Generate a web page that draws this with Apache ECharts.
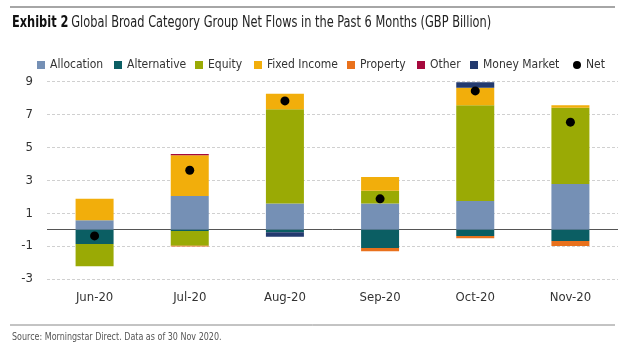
<!DOCTYPE html>
<html><head><meta charset="utf-8">
<script src="https://cdn.jsdelivr.net/npm/echarts@6/dist/echarts.min.js"></script>
<style>html,body{margin:0;padding:0;background:#fff}#c{width:625px;height:357px}</style>
</head><body><div id="c"></div>
<script>
var categories = ['Jun-20','Jul-20','Aug-20','Sep-20','Oct-20','Nov-20'];
var allocation = [0.57, 2.05, 1.58, 1.59, 1.74, 2.77];
var alternative = [-0.87, -0.08, -0.16, -1.11, -0.38, -0.69];
var equity = [-1.36, -0.90, 5.73, 0.77, 5.81, 4.64];
var fixedIncome = [1.30, 2.47, 0.95, 0.83, 1.07, 0.14];
var property = [0, -0.04, 0, -0.20, -0.14, -0.30];
var other = [0, 0.07, 0, 0, 0, 0];
var moneyMarket = [0, 0, -0.28, 0, 0.34, 0];
var net = [-0.38, 3.61, 7.82, 1.87, 8.43, 6.53];
var yTicks = [-3, -1, 1, 3, 5, 7, 9];

var FONT = "'Liberation Sans Narrow', 'DejaVu Sans Condensed', 'Roboto', sans-serif";
var names = ['Allocation','Alternative','Equity','Fixed Income','Property','Other','Money Market'];
var colors = ['#7590b5','#0b5e63','#9aaa05','#f2ae0b','#e9711c','#a6093d','#233a6f'];
var datas = [allocation, alternative, equity, fixedIncome, property, other, moneyMarket];
var legendLeft = [37, 114, 195, 254, 347, 417, 470, 573];

var series = names.map(function(n, i){
  var s = {name:n, type:'bar', stack:'flows', data:datas[i], barWidth:38,
    itemStyle:{color:colors[i]}, emphasis:{disabled:true}};
  if (i === 0) {
    s.markLine = {silent:true, symbol:['none','none'], label:{show:false},
      lineStyle:{color:'#555', type:'solid', width:1}, data:[{yAxis:0}], z:1};
  }
  return s;
});
series.push({name:'Net', type:'scatter', data:net, symbolSize:9, itemStyle:{color:'#000', opacity:1}, z:10});

var legendNames = names.concat(['Net']);
var legends = legendNames.map(function(n, i){
  return {top:59, left:legendLeft[i], itemWidth:8, itemHeight:8, padding:0,
    textStyle:{fontFamily:FONT, fontSize:12, color:'#333'},
    data:[{name:n, icon:(n === 'Net' ? 'circle' : 'rect')}]};
});

var chart = echarts.init(document.getElementById('c'));
chart.setOption({
  animation:false,
  textStyle:{fontFamily:FONT},
  legend:legends,
  grid:{left:47, right:7, top:81.5, bottom:78, containLabel:false},
  xAxis:{type:'category', data:categories, axisLine:{show:false, onZero:false}, axisTick:{show:false},
    axisLabel:{fontFamily:FONT, fontSize:13, color:'#333', margin:12}},
  yAxis:{type:'value', min:yTicks[0], max:yTicks[yTicks.length-1], interval:2,
    axisLine:{show:false}, axisTick:{show:false},
    axisLabel:{fontFamily:FONT, fontSize:13, color:'#333', margin:14},
    splitLine:{lineStyle:{color:'#d0d0d0', type:[3,2]}}},
  series:series,
  graphic:[
    {type:'line', shape:{x1:10, y1:7, x2:615, y2:7}, style:{stroke:'#888', lineWidth:1.5}},
    {type:'text', x:12, y:16, scaleX:0.843, style:{rich:{b:{fontFamily:FONT, fontSize:15, fontWeight:'bold', fill:'#111'}, n:{fontFamily:FONT, fontSize:15, fill:'#222'}},
      text:'{b|Exhibit 2} {n|Global Broad Category Group Net Flows in the Past 6 Months (GBP Billion)}'}},
    {type:'line', shape:{x1:10, y1:325, x2:615, y2:325}, style:{stroke:'#888', lineWidth:1}},
    {type:'text', x:12, y:332, scaleX:0.89, style:{text:'Source: Morningstar Direct. Data as of 30 Nov 2020.', fontFamily:FONT, fontSize:10, fill:'#555'}}
  ]
});
</script></body></html>
